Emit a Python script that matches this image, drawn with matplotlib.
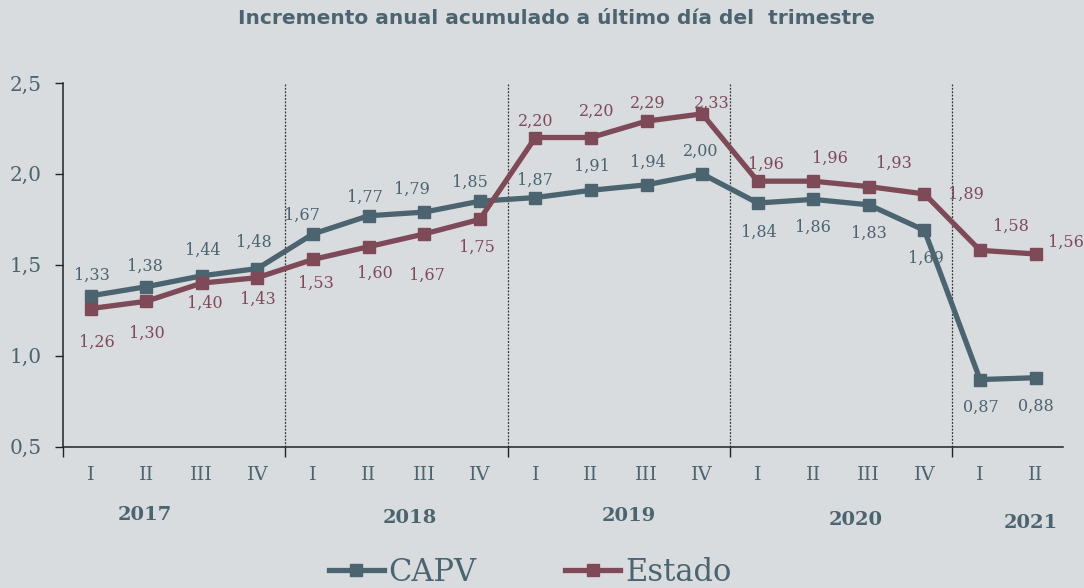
import matplotlib.pyplot as plt
from matplotlib.lines import Line2D

# data
quarters = ['I', 'II', 'III', 'IV'] * 4 + ['I', 'II']
years = ['2017', '2018', '2019', '2020', '2021']
capv = [1.33, 1.38, 1.44, 1.48, 1.67, 1.77, 1.79, 1.85, 1.87, 1.91,
        1.94, 2.00, 1.84, 1.86, 1.83, 1.69, 0.87, 0.88]
estado = [1.26, 1.30, 1.40, 1.43, 1.53, 1.60, 1.67, 1.75, 2.20, 2.20,
          2.29, 2.33, 1.96, 1.96, 1.93, 1.89, 1.58, 1.56]

# label offsets in pixels (dx, dy) as placed in the original
capv_off = [(1, 21), (-1, 20), (1, 25), (-4, 26), (-11, 19), (-4, 18), (-12, 23),
            (-10, 19), (0, 17), (1, 24), (1, 22), (-1, 23), (1, -29), (0, -28),
            (0, -28), (1, -28), (1, -28), (0, -29)]
estado_off = [(6, -34), (1, -32), (3, -20), (0, -22), (3, -24), (6, -27), (3, -41),
              (-3, -28), (0, 16), (6, 26), (1, 18), (10, 11), (8, 17), (17, 23),
              (25, 23), (41, 0), (31, 24), (30, 12)]
year_x = [0.97, 5.75, 9.68, 13.77, 16.92]
year_dy = [-68, -71, -69, -73, -76]

c_capv = '#4b6470'
c_est = '#7e4a58'
bg = '#d9dcdf'
serif = 'DejaVu Serif'

fig = plt.figure(figsize=(10.84, 5.88), dpi=100, facecolor=bg)
ax = fig.add_axes([0.058, 0.240, 0.923, 0.619])
ax.set_facecolor(bg)

x = list(range(len(capv)))
ax.plot(x, capv, color=c_capv, lw=3.8, marker='s', ms=8.5, zorder=3)
ax.plot(x, estado, color=c_est, lw=3.8, marker='s', ms=8.5, zorder=3)

for i in x:
    ax.annotate(f'{capv[i]:.2f}'.replace('.', ','), (i, capv[i]), xytext=capv_off[i],
                textcoords='offset pixels', ha='center', va='center',
                color=c_capv, fontsize=11.5, family=serif, zorder=2)
    ax.annotate(f'{estado[i]:.2f}'.replace('.', ','), (i, estado[i]), xytext=estado_off[i],
                textcoords='offset pixels', ha='center', va='center',
                color=c_est, fontsize=11.5, family=serif, zorder=2)

# year separators
for sx in [3.5, 7.5, 11.5, 15.5]:
    ax.axvline(sx, color='#333333', lw=0.9, ls=(0, (1.5, 1.2)), zorder=1)

ax.set_xlim(-0.5, 17.5)
ax.set_ylim(0.5, 2.5)
ax.set_yticks([0.5, 1.0, 1.5, 2.0, 2.5])
ax.set_yticklabels(['0,5', '1,0', '1,5', '2,0', '2,5'], family=serif,
                   fontsize=14.5, color=c_capv)
ax.set_xticks([-0.5, 3.5, 7.5, 11.5, 15.5])
ax.set_xticklabels([])
ax.tick_params(axis='x', length=7, width=1, color='#222222', direction='out')
ax.tick_params(axis='y', length=6, width=1, color='#222222', direction='out', pad=9)

for i, q in enumerate(quarters):
    ax.annotate(q, (i, 0.5), xytext=(0, -28), textcoords='offset pixels',
                ha='center', va='center', fontsize=14, family=serif, color=c_capv,
                annotation_clip=False)
for yx, dy, yr in zip(year_x, year_dy, years):
    ax.annotate(yr, (yx, 0.5), xytext=(0, dy), textcoords='offset pixels',
                ha='center', va='center', fontsize=14, family=serif,
                fontweight='bold', color=c_capv, annotation_clip=False)

for s in ['top', 'right']:
    ax.spines[s].set_visible(False)
for s in ['left', 'bottom']:
    ax.spines[s].set_color('#222222')
    ax.spines[s].set_linewidth(1.1)

fig.text(0.513, 0.968, 'Incremento anual acumulado a último día del  trimestre',
         ha='center', va='center', fontsize=14.5, fontweight='bold',
         family='DejaVu Sans', color=c_capv)

handles = [Line2D([], [], color=c_capv, lw=3.8, marker='s', ms=8),
           Line2D([], [], color=c_est, lw=3.8, marker='s', ms=8)]
leg = fig.legend(handles, ['CAPV', 'Estado'], loc='center', bbox_to_anchor=(0.489, 0.027),
                 ncol=2, frameon=False, handlelength=1.8, handletextpad=0.15,
                 columnspacing=2.9, prop={'family': serif, 'size': 22})
for t in leg.get_texts():
    t.set_color(c_capv)

fig.savefig('out.png', dpi=100, facecolor=bg)
